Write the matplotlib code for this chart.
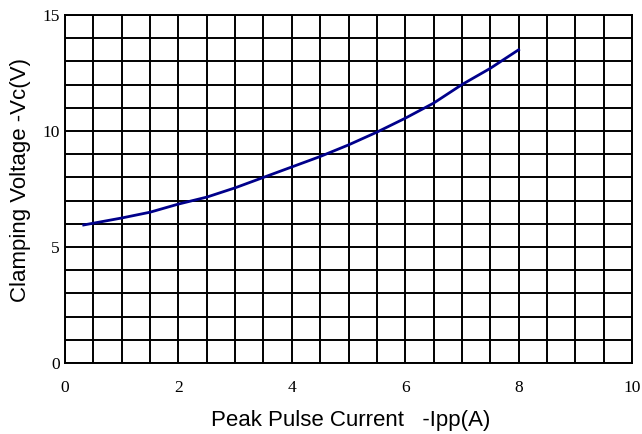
#!/usr/bin/env python3
"""Clamping voltage vs peak pulse current curve."""

import matplotlib

matplotlib.use("Agg")
import matplotlib.pyplot as plt
from matplotlib.ticker import MultipleLocator

# values
ipp_a = [0.33, 1.0, 1.5, 2.0, 2.5, 3.0, 3.5, 4.0, 4.5, 5.0, 5.5, 6.0, 6.5, 7.0, 7.5, 8.0]
vc_v = [5.95, 6.25, 6.5, 6.85, 7.15, 7.55, 8.0, 8.45, 8.9, 9.4, 9.95, 10.55, 11.2, 12.0, 12.7, 13.5]

x_label = "Peak Pulse Current   -Ipp(A)"
y_label = "Clamping Voltage -Vc(V)"

W, H = 642, 434


def main() -> int:
    fig = plt.figure(figsize=(W / 100, H / 100), dpi=100)
    ax = fig.add_axes([65 / W, 1 - 363 / H, 567 / W, 348 / H])

    ax.plot(ipp_a, vc_v, color="#00008B", linewidth=2.0, zorder=3)

    ax.set_xlim(0, 10)
    ax.set_ylim(0, 15)
    ax.xaxis.set_major_locator(MultipleLocator(2))
    ax.xaxis.set_minor_locator(MultipleLocator(0.5))
    ax.yaxis.set_major_locator(MultipleLocator(5))
    ax.yaxis.set_minor_locator(MultipleLocator(1))
    ax.grid(which="both", color="black", linewidth=1.4)
    ax.tick_params(which="both", length=0, labelsize=12.5)
    ax.tick_params(axis="x", pad=12)
    ax.tick_params(axis="y", pad=3.6)
    for label in ax.get_xticklabels() + ax.get_yticklabels():
        label.set_fontfamily("Liberation Serif")
    ax.get_xticklabels()[-1].set_horizontalalignment("left")
    for spine in ax.spines.values():
        spine.set_linewidth(1.4)

    fig.text(351 / W, 1 - 426 / H, x_label, fontsize=16, fontfamily="Liberation Sans",
             ha="center", va="baseline")
    fig.text(20.5 / W, 1 - 180.5 / H, y_label, fontsize=16, fontfamily="Liberation Sans",
             ha="center", va="center", rotation=90)

    fig.savefig("out.png", dpi=100)
    plt.close(fig)
    return 0


if __name__ == "__main__":
    raise SystemExit(main())
